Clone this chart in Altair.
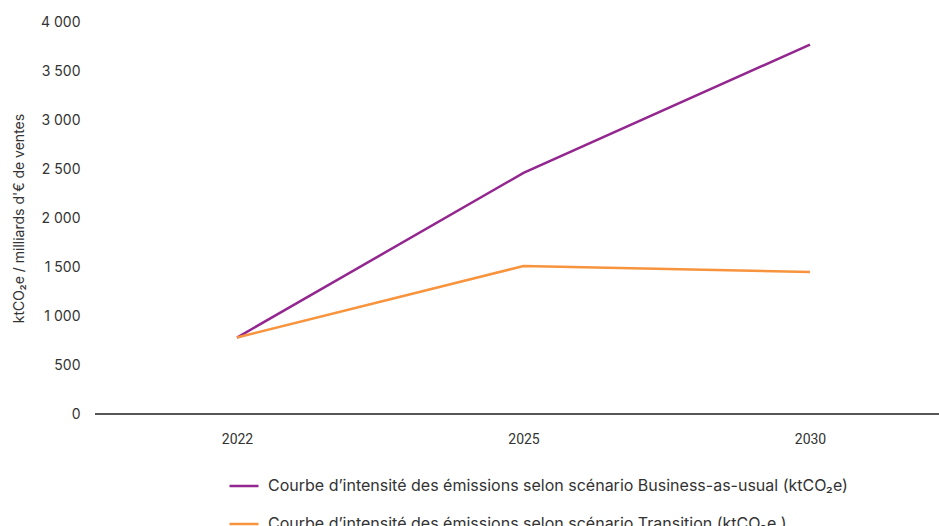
import altair as alt
import pandas as pd

years = ["2022", "2025", "2030"]
bau = [780, 2460, 3770]
transition = [780, 1510, 1450]
series_names = [
    "Courbe d’intensité des émissions selon scénario Business-as-usual (ktCO₂e)",
    "Courbe d’intensité des émissions selon scénario Transition (ktCO₂e )",
]
colors = ["#93278F", "#F7943D"]

rows = []
for s, vals in zip(series_names, [bau, transition]):
    for y, v in zip(years, vals):
        rows.append({"year": y, "value": v, "series": s})
df = pd.DataFrame(rows)

base = alt.Chart(df)

axis_line = base.mark_rule(color="#555555", strokeWidth=1).encode(
    x=alt.value(0),
    x2=alt.value(844),
    y=alt.datum(0),
)

lines = base.mark_line(strokeWidth=2.5).encode(
    x=alt.X(
        "year:N",
        sort=years,
        scale=alt.Scale(type="point", padding=0, range=[142, 715]),
        axis=alt.Axis(
            title=None,
            labelAngle=0,
            ticks=False,
            grid=False,
            domain=False,
            labelFont="Roboto",
            labelFontSize=14,
            labelColor="#333333",
            labelPadding=18,
        ),
    ),
    y=alt.Y(
        "value:Q",
        scale=alt.Scale(domain=[0, 4000]),
        axis=alt.Axis(
            title="ktCO₂e / milliards d'€ de ventes",
            titleFont="Inter",
            titleFontSize=14,
            titleFontWeight="normal",
            titleColor="#333333",
            titlePadding=14,
            values=[0, 500, 1000, 1500, 2000, 2500, 3000, 3500, 4000],
            labelExpr="replace(format(datum.value, ','), ',', ' ')",
            domain=False,
            ticks=False,
            grid=False,
            labelFont="Inter",
            labelFontSize=14,
            labelColor="#333333",
            labelPadding=15,
        ),
    ),
    color=alt.Color(
        "series:N",
        scale=alt.Scale(domain=series_names, range=colors),
        legend=alt.Legend(
            title=None,
            orient="none",
            legendX=133,
            legendY=448,
            direction="vertical",
            symbolType="stroke",
            symbolStrokeWidth=2.5,
            symbolSize=840,
            labelOffset=8,
            labelFont="Inter",
            labelFontSize=16,
            labelColor="#333333",
            labelLimit=900,
            rowPadding=14,
        ),
    ),
)

chart = (
    alt.layer(axis_line, lines)
    .properties(
        width=844,
        height=392,
        padding={"left": 95, "top": 22, "right": 0, "bottom": 112},
        autosize=alt.AutoSizeParams(type="none"),
    )
    .configure_view(stroke=None)
)

chart.save("out.html", embed_options={"renderer": "svg", "actions": False})
